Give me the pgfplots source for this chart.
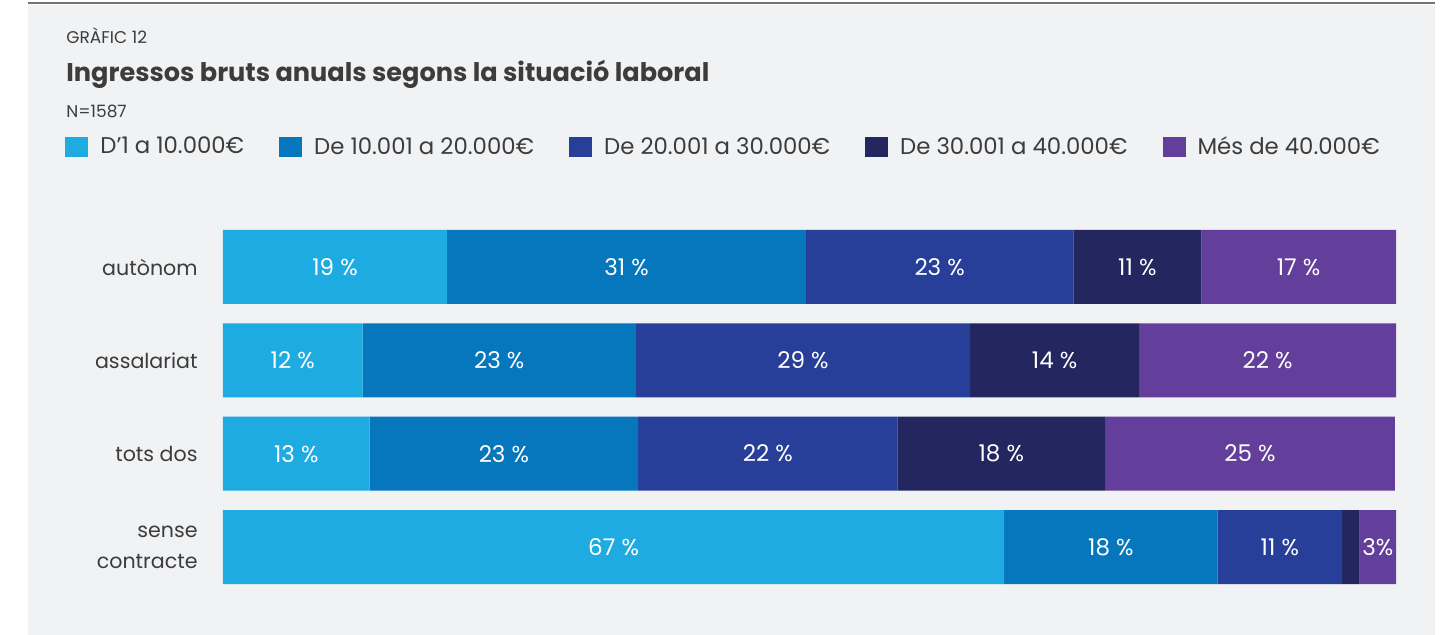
\documentclass[border=0pt]{standalone}
\usepackage{fontspec}
\setmainfont{Poppins}
\usepackage{pgfplots}
\pgfplotsset{compat=1.18}
\definecolor{c1}{RGB}{30,171,226}
\definecolor{c2}{RGB}{6,118,189}
\definecolor{c3}{RGB}{40,63,154}
\definecolor{c4}{RGB}{35,38,95}
\definecolor{c5}{RGB}{99,62,154}
\definecolor{panel}{RGB}{241,242,244}
\definecolor{txt}{RGB}{60,60,60}

\begin{document}
\begin{tikzpicture}
\useasboundingbox (0,0) rectangle (721pt,317.5pt);
\fill[white] (0,0) rectangle (721pt,317.5pt);
\fill[panel] (14pt,0) rectangle (717.5pt,315pt);
\draw[line width=1pt, color=black!55] (14pt,316pt) -- (717.5pt,316pt);
\node[anchor=base west, text=txt, font=\fontsize{8.5}{10}\selectfont, inner sep=0] at (33pt,295.8pt) {GRÀFIC 12};
\node[anchor=base west, text=txt, font=\fontsize{12.8}{15}\selectfont\bfseries, inner sep=0] at (33pt,276.7pt) {Ingressos bruts anuals segons la situació laboral};
\node[anchor=base west, text=txt, font=\fontsize{8.5}{10}\selectfont, inner sep=0] at (33pt,258.5pt) {N=1587};

\begin{axis}[
    at={(111.5pt,20.65pt)}, anchor=south west,
    scale only axis, width=586.5pt, height=186.7pt,
    xbar stacked, bar width=37pt,
    xmin=0, xmax=100, ymin=-0.5, ymax=3.5,
    y dir=reverse,
    axis line style={draw=none},
    major tick length=0pt,
    xtick=\empty,
    ytick={0,1,2,3},
    yticklabels={autònom,assalariat,tots dos,{sense\\contracte}},
    yticklabel style={align=right, inner sep=0pt, xshift=-12.5pt, text=txt,
        font=\fontsize{10.3}{15.5}\selectfont},
    point meta=explicit symbolic,
    nodes near coords,
    every node near coord/.append style={anchor=center, text=white,
        font=\fontsize{11.5}{13}\selectfont},
    legend columns=5,
    legend style={at={(-0.1347,1.196)}, anchor=west, draw=none, fill=none,
        font=\fontsize{11.4}{13}\selectfont, text=txt, inner sep=0pt,
        /tikz/every odd column/.append style={column sep=4pt},
        /tikz/every even column/.append style={column sep=15.5pt}},
    legend image code/.code={\fill[#1] (0pt,-5pt) rectangle (11.5pt,5pt);},
    legend cell align=left,
]
\addplot[fill=c1, draw=none] coordinates {(19.1,0) [19 \%] (11.9,1) [12 \%] (12.5,2) [13 \%] (66.6,3) [67 \%]};
\addplot[fill=c2, draw=none] coordinates {(30.6,0) [31 \%] (23.3,1) [23 \%] (22.9,2) [23 \%] (18.2,3) [18 \%]};
\addplot[fill=c3, draw=none] coordinates {(22.8,0) [23 \%] (28.5,1) [29 \%] (22.1,2) [22 \%] (10.6,3) [11 \%]};
\addplot[fill=c4, draw=none] coordinates {(10.9,0) [11 \%] (14.4,1) [14 \%] (17.7,2) [18 \%] (1.5,3) []};
\addplot[fill=c5, draw=none] coordinates {(16.6,0) [17 \%] (21.9,1) [22 \%] (24.7,2) [25 \%] (3.1,3) [3\%]};
\legend{D’1 a 10.000€, De 10.001 a 20.000€, De 20.001 a 30.000€, De 30.001 a 40.000€, Més de 40.000€}
\end{axis}
\end{tikzpicture}
\end{document}
